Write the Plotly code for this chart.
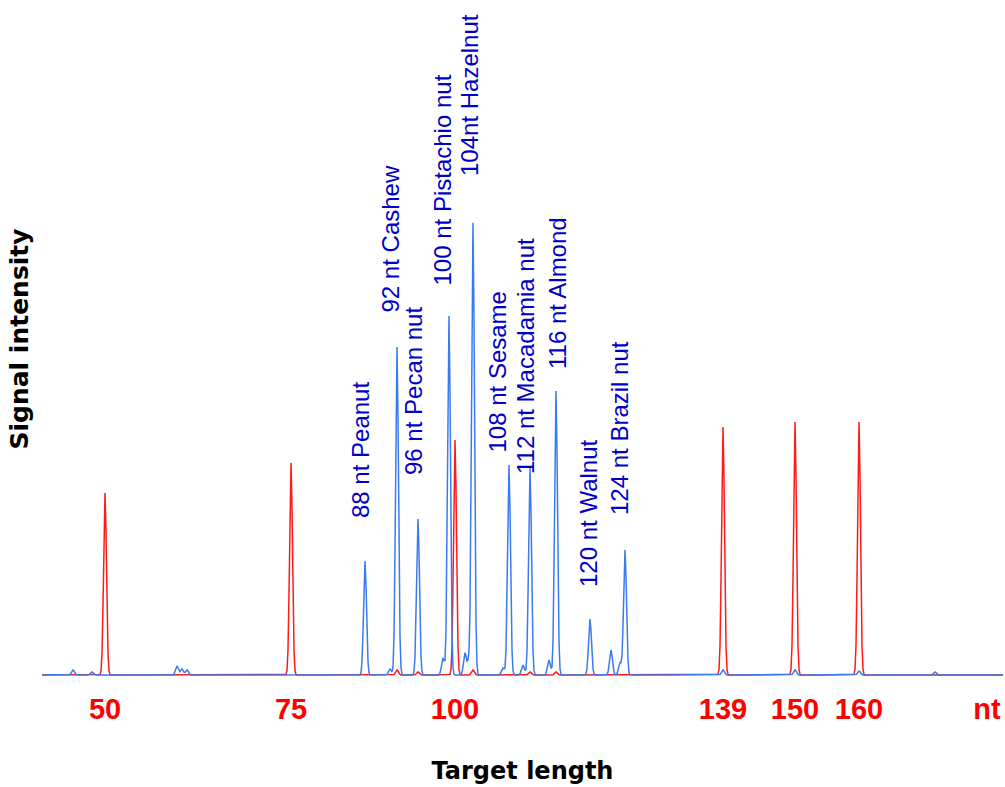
import numpy as np
import plotly.graph_objects as go

# ---- size standard (red channel): migration position, size and peak height ----
ladder_pos = [105, 291, 455, 723, 795, 859]
ladder_nt = ["50", "75", "100", "139", "150", "160"]
ladder_height = [182, 212, 235, 248, 253, 253]

# ---- nut targets (blue channel) ----
target_pos = [365, 397, 418, 449, 473, 509, 530, 556, 590, 625]
target_height = [114, 328, 156, 359, 452, 210, 207, 284, 56, 125]
target_label = [
    "88 nt Peanut", "92 nt Cashew", "96 nt Pecan nut", "100 nt Pistachio nut",
    "104nt Hazelnut", "108 nt Sesame", "112 nt Macadamia nut", "116 nt Almond",
    "120 nt Walnut", "124 nt Brazil nut",
]
label_x = [360, 390, 413, 442, 469, 497, 525, 557, 588, 619]
label_base = [155, 360, 198, 387, 497, 220, 199, 304, 86, 158]

# minor background peaks in each channel
blue_minor_pos = [73, 92, 177, 182, 187, 390, 443, 465, 469, 503, 523, 549, 611, 620, 723, 795, 859, 935]
blue_minor_height = [5, 3, 9, 6, 5, 6, 17, 22, 14, 7, 10, 15, 25, 12, 5, 5, 4, 3]
red_minor_pos = [397, 418, 473, 530, 556]
red_minor_height = [5, 3, 5, 3, 3]

unit_pos = 987  # position of the "nt" unit label on the size axis

# migration axis sampling
x = np.arange(42, 1004, 1.0)
SIGMA = 1.45


def electropherogram(positions, heights):
    y = np.zeros_like(x)
    for p, h in zip(positions, heights):
        y += h * np.exp(-0.5 * ((x - p) / SIGMA) ** 2)
    return y


blue_y = electropherogram(target_pos + blue_minor_pos, target_height + blue_minor_height)
red_y = electropherogram(ladder_pos + red_minor_pos, ladder_height + red_minor_height)

fig = go.Figure()
fig.add_trace(go.Scatter(x=x, y=red_y, mode="lines",
                         line=dict(color="#ff1a1a", width=1.5), hoverinfo="skip"))
fig.add_trace(go.Scatter(x=x, y=blue_y, mode="lines",
                         line=dict(color="#3a7bf0", width=1.5), hoverinfo="skip"))

for txt, lx, lb in zip(target_label, label_x, label_base):
    fig.add_annotation(x=lx, y=lb, text=txt, textangle=-90, showarrow=False,
                       xanchor="center", yanchor="bottom",
                       font=dict(family="Liberation Sans", size=24, color="#0000c8"))

fig.update_layout(
    width=1005, height=787,
    margin=dict(l=42, r=2, t=0, b=109),
    paper_bgcolor="white", plot_bgcolor="white",
    showlegend=False,
    xaxis=dict(
        range=[42, 1003],
        tickmode="array",
        tickvals=ladder_pos + [unit_pos],
        ticktext=ladder_nt + ["nt"],
        tickfont=dict(family="Liberation Sans", size=29, color="#ff0000", weight="bold"),
        ticks="", ticklabelstandoff=11,
        showgrid=False, zeroline=False, showline=False,
        title=dict(text="Target length", standoff=38,
                   font=dict(family="DejaVu Sans", size=24, color="black", weight="bold")),
        automargin=False,
    ),
    yaxis=dict(
        range=[-3, 675],
        showticklabels=False, ticks="",
        showgrid=False, zeroline=False, showline=False,
        title=dict(text="Signal intensity", standoff=5,
                   font=dict(family="DejaVu Sans", size=25, color="black", weight="bold")),
        automargin=False,
    ),
)

fig.write_html("out.html")
